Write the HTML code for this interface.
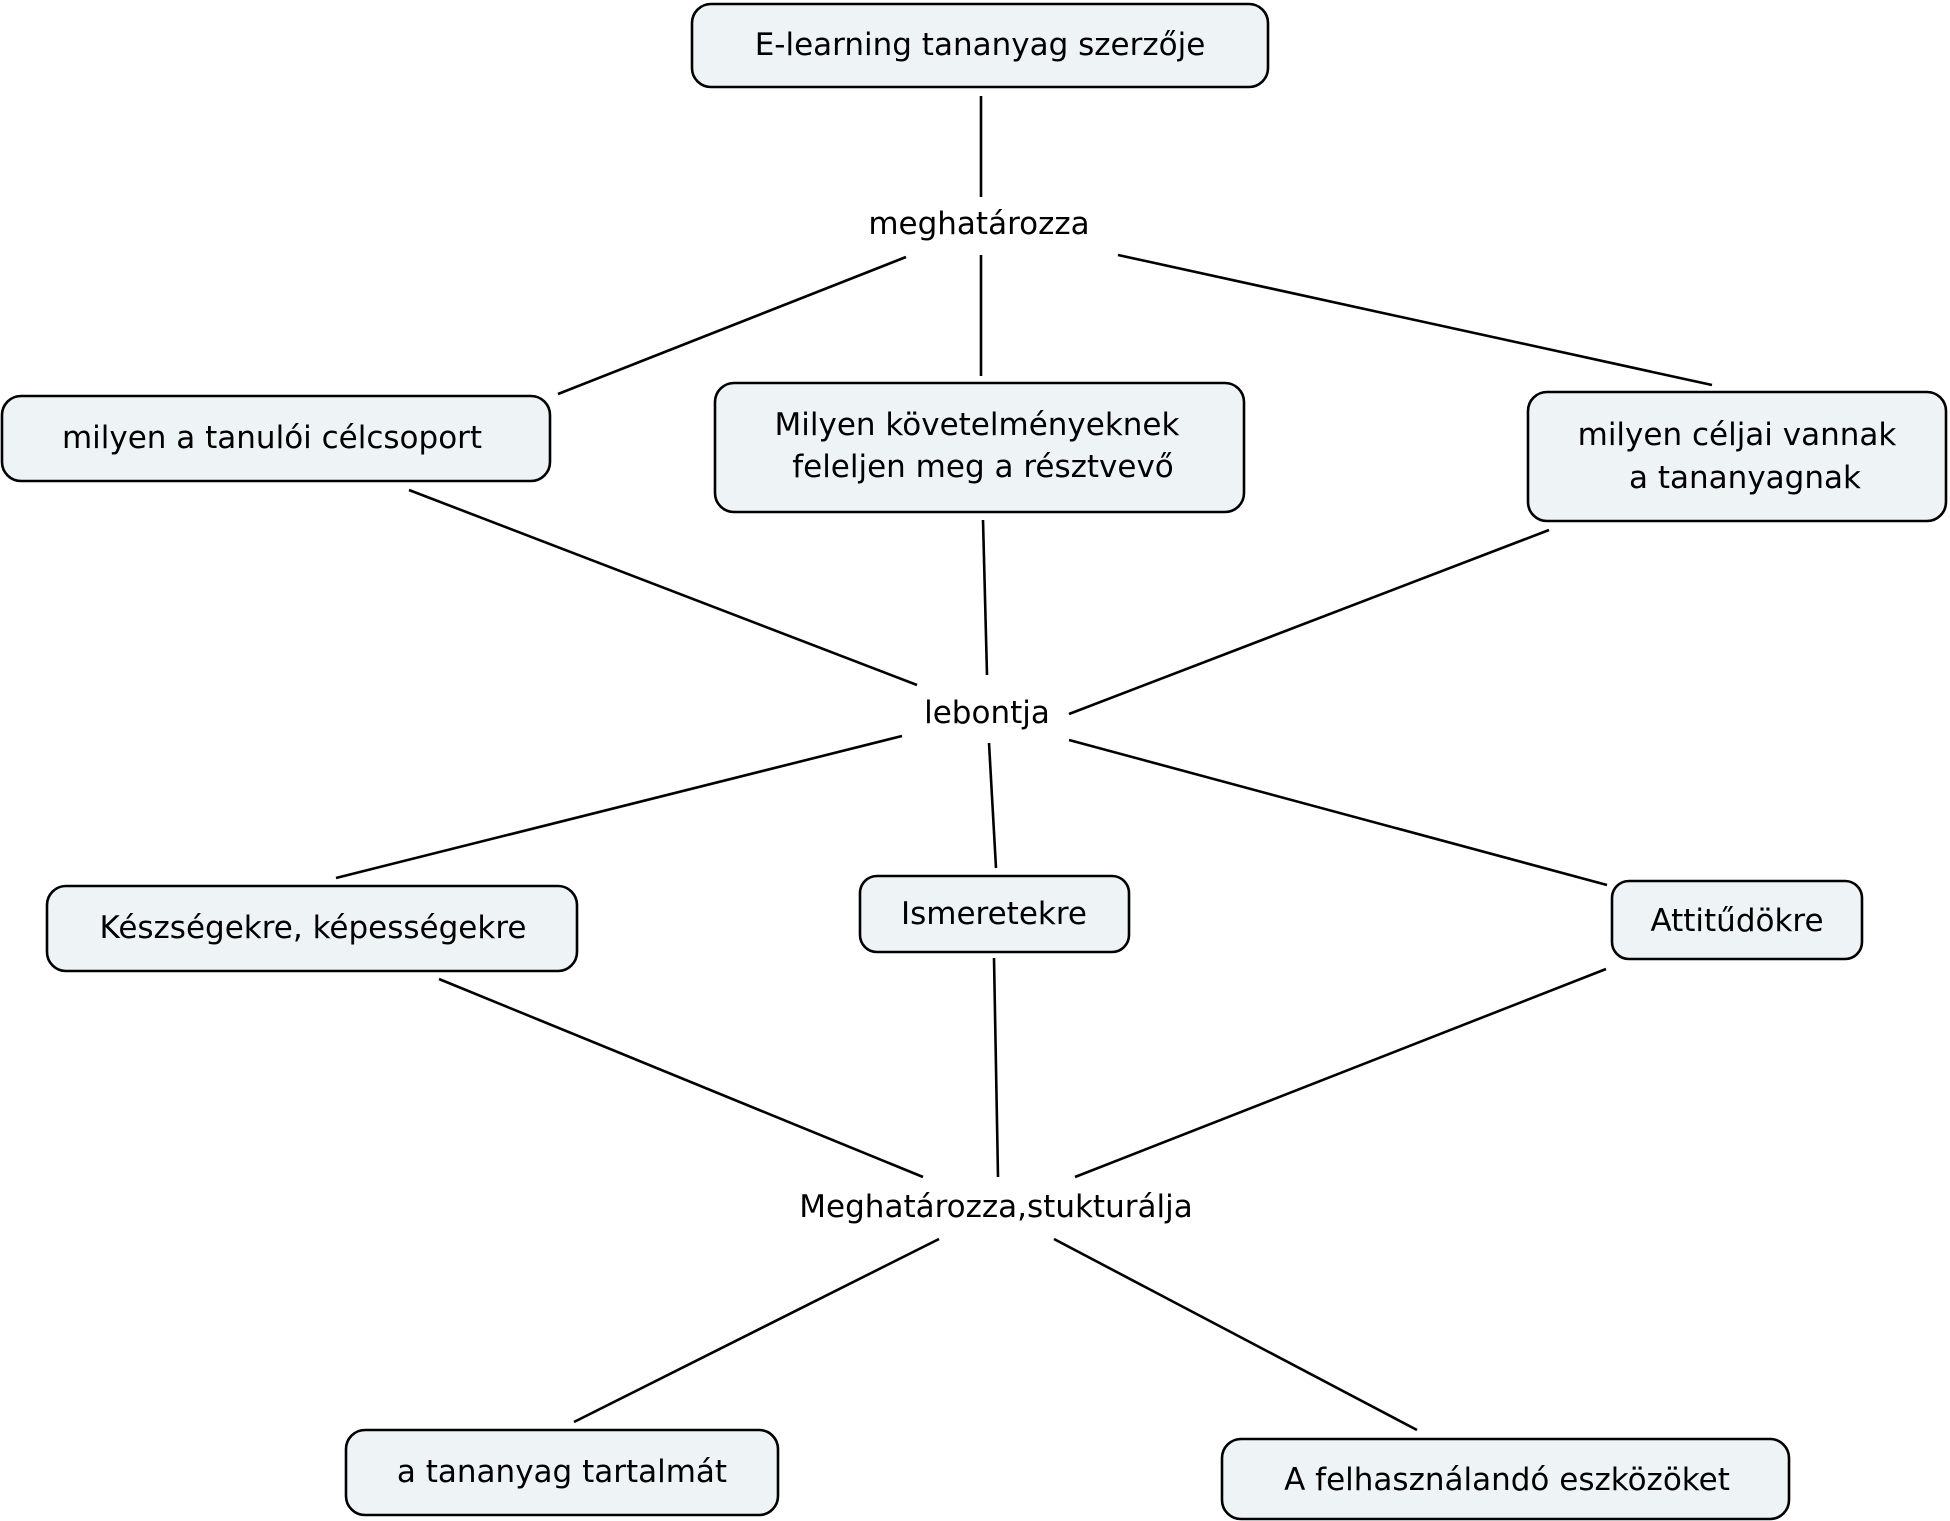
<!DOCTYPE html>
<html><head><meta charset="utf-8"><style>
html,body{margin:0;padding:0;background:#fff;}
svg{display:block;}
text{font-family:"DejaVu Sans","Liberation Sans",sans-serif;font-size:31px;fill:#000;text-anchor:middle;dominant-baseline:central;}
rect{fill:#eef4f6;stroke:#000;stroke-width:2.6;}
line{stroke:#000;stroke-width:2.6;}
</style></head><body>
<svg width="1950" height="1521" viewBox="0 0 1950 1521">
<g>
<line x1="981" y1="96" x2="981" y2="197"/>
<line x1="906" y1="257" x2="558" y2="394"/>
<line x1="981" y1="255" x2="981" y2="376"/>
<line x1="1118" y1="255" x2="1712" y2="385"/>
<line x1="409" y1="490" x2="917" y2="685"/>
<line x1="983" y1="520" x2="987" y2="675"/>
<line x1="1549" y1="530" x2="1069" y2="714"/>
<line x1="902" y1="736" x2="336" y2="878"/>
<line x1="989" y1="743" x2="996" y2="868"/>
<line x1="1069" y1="740" x2="1607" y2="885"/>
<line x1="439" y1="979" x2="923" y2="1177"/>
<line x1="994" y1="958" x2="998" y2="1177"/>
<line x1="1606" y1="969" x2="1075" y2="1177"/>
<line x1="939" y1="1239" x2="574" y2="1422"/>
<line x1="1054" y1="1239" x2="1417" y2="1430"/>
</g>
<rect x="692" y="4" width="576" height="83" rx="19"/>
<text x="980" y="45">E-learning tananyag szerzője</text>
<text x="979" y="224">meghatározza</text>
<rect x="2" y="396" width="548" height="85" rx="19"/>
<text x="272" y="438">milyen a tanulói célcsoport</text>
<rect x="715" y="383" width="529" height="129" rx="19"/>
<text x="977" y="425">Milyen követelményeknek</text>
<text x="983" y="467">feleljen meg a résztvevő</text>
<rect x="1528" y="392" width="418" height="129" rx="19"/>
<text x="1737" y="435">milyen céljai vannak</text>
<text x="1745" y="478">a tananyagnak</text>
<text x="987" y="713">lebontja</text>
<rect x="47" y="886" width="530" height="85" rx="19"/>
<text x="313" y="928">Készségekre, képességekre</text>
<rect x="860" y="876" width="269" height="76" rx="17"/>
<text x="994" y="914">Ismeretekre</text>
<rect x="1612" y="881" width="250" height="78" rx="17"/>
<text x="1737" y="921">Attitűdökre</text>
<text x="996" y="1207">Meghatározza,stukturálja</text>
<rect x="346" y="1430" width="432" height="85" rx="19"/>
<text x="562" y="1472">a tananyag tartalmát</text>
<rect x="1222" y="1439" width="567" height="80" rx="19"/>
<text x="1507" y="1480">A felhasználandó eszközöket</text>
</svg>
</body></html>
